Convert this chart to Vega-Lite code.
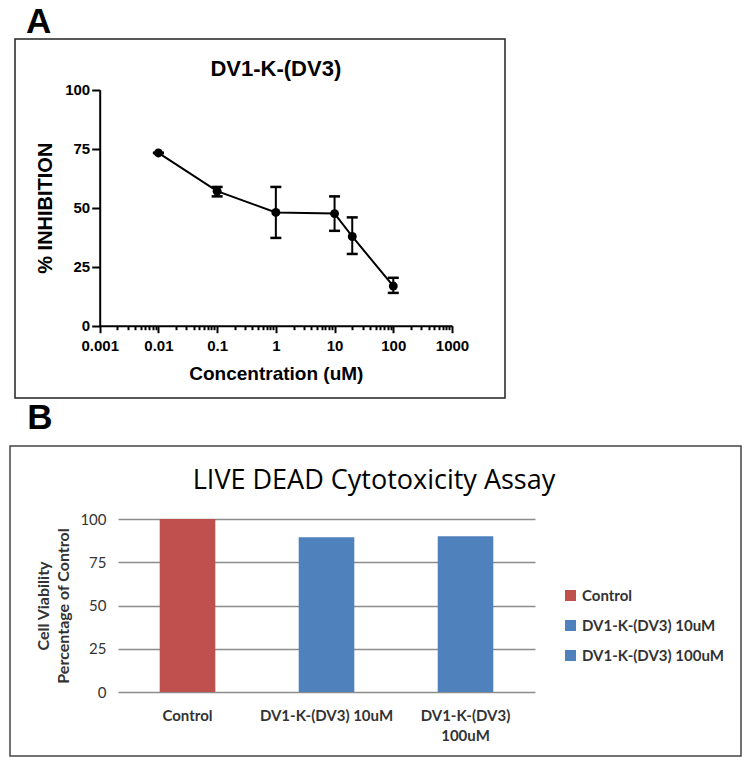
{
  "$schema": "https://vega.github.io/schema/vega-lite/v6.json",
  "padding": {"left": 9, "top": 5, "right": 5, "bottom": 5},
  "background": "white",
  "config": {"font": "Liberation Sans", "view": {"stroke": null}},
  "spacing": 2,
  "resolve": {"scale": {"color": "independent"}, "legend": {"color": "independent"}},
  "vconcat": [
    {
      "title": {"text": "A", "anchor": "start", "dx": 16, "offset": -30, "baseline": "alphabetic", "font": "Liberation Sans", "fontSize": 35, "fontWeight": "bold", "color": "black"},
      "spacing": 0,
      "hconcat": [
        {"width": 4, "height": 1, "data": {"values": []}, "mark": "point", "view": {"stroke": null}},
        {
          "width": 490,
          "height": 359,
          "view": {"stroke": "#222222", "strokeWidth": 1.5},
          "data": {"values": [
            {"conc": 0.01, "inh": 73.2, "lo": 73.2, "hi": 73.2},
            {"conc": 0.1, "inh": 57.0, "lo": 54.8, "hi": 58.8},
            {"conc": 1, "inh": 48.0, "lo": 37.2, "hi": 58.8},
            {"conc": 10, "inh": 47.5, "lo": 40.2, "hi": 54.8},
            {"conc": 20, "inh": 37.8, "lo": 30.4, "hi": 45.9},
            {"conc": 100, "inh": 16.8, "lo": 13.9, "hi": 20.3}
          ]},
          "layer": [
            {
              "encoding": {
                "x": {
                  "field": "conc", "type": "quantitative",
                  "scale": {"type": "log", "domain": [0.001, 1000], "range": [84.7, 437], "nice": false},
                  "axis": {
                    "values": [0.001,0.002,0.003,0.004,0.005,0.006,0.007,0.008,0.009,0.01,0.02,0.03,0.04,0.05,0.06,0.07,0.08,0.09,0.1,0.2,0.3,0.4,0.5,0.6,0.7,0.8,0.9,1,2,3,4,5,6,7,8,9,10,20,30,40,50,60,70,80,90,100,200,300,400,500,600,700,800,900,1000],
                    "labelExpr": "indexof([0.001,0.01,0.1,1,10,100,1000], datum.value) >= 0 ? format(datum.value, '~g') : ''",
                    "tickSize": {"condition": {"test": "indexof([0.001,0.01,0.1,1,10,100,1000], datum.value) >= 0", "value": 7}, "value": 4},
                    "tickWidth": 2, "tickColor": "black",
                    "domain": true, "domainWidth": 2, "domainColor": "black",
                    "grid": false, "offset": -72.3,
                    "labelFont": "Liberation Sans", "labelFontSize": 15, "labelFontWeight": "bold", "labelColor": "black",
                    "labelPadding": 6, "labelFlush": false, "labelOverlap": false, "labelBound": false,
                    "title": "Concentration (uM)", "titleFont": "Liberation Sans", "titleFontSize": 19, "titleFontWeight": "bold", "titleColor": "black",
                    "titleY": 54, "titleBaseline": "alphabetic"
                  }
                },
                "y": {
                  "field": "inh", "type": "quantitative",
                  "scale": {"domain": [0, 100], "range": [286.7, 50.7], "nice": false, "zero": false},
                  "axis": {
                    "values": [0, 25, 50, 75, 100],
                    "offset": -84.7, "domain": true, "domainWidth": 2, "domainColor": "black", "grid": false,
                    "tickSize": 8, "tickWidth": 2, "tickColor": "black",
                    "labelFont": "Liberation Sans", "labelFontSize": 15, "labelFontWeight": "bold", "labelColor": "black", "labelPadding": 2,
                    "title": "% INHIBITION", "titleFont": "Liberation Sans", "titleFontSize": 20, "titleFontWeight": "bold", "titleColor": "black",
                    "titleX": -47.7, "titleBaseline": "alphabetic"
                  }
                }
              },
              "layer": [
                {
                  "mark": {"type": "line", "color": "black", "strokeWidth": 2},
                  "encoding": {}
                },
                {
                  "mark": {"type": "rule", "color": "black", "strokeWidth": 2},
                  "encoding": {"y": {"field": "lo", "type": "quantitative"}, "y2": {"field": "hi"}}
                },
                {
                  "mark": {"type": "tick", "orient": "horizontal", "color": "black", "size": 11, "thickness": 2.5, "opacity": 1},
                  "encoding": {"y": {"field": "lo", "type": "quantitative"}}
                },
                {
                  "mark": {"type": "tick", "orient": "horizontal", "color": "black", "size": 11, "thickness": 2.5, "opacity": 1},
                  "encoding": {"y": {"field": "hi", "type": "quantitative"}}
                },
                {
                  "mark": {"type": "circle", "color": "black", "size": 80, "opacity": 1},
                  "encoding": {}
                }
              ]
            },
            {
              "data": {"values": [{"label": "DV1-K-(DV3)"}]},
              "mark": {"type": "text", "font": "Liberation Sans", "fontSize": 22, "fontWeight": "bold", "baseline": "alphabetic", "align": "center", "color": "black"},
              "encoding": {
                "x": {"datum": 1, "type": "quantitative"},
                "y": {"datum": 105.7, "type": "quantitative"},
                "text": {"field": "label"}
              }
            }
          ]
        }
      ]
    },
    {
      "title": {"text": "B", "anchor": "start", "dx": 18, "offset": -19, "baseline": "alphabetic", "font": "Liberation Sans", "fontSize": 35, "fontWeight": "bold", "color": "black"},
      "resolve": {"scale": {"color": "independent"}, "legend": {"color": "independent"}},
      "vconcat": [
        {
          "width": 731,
          "height": 310,
          "view": {"stroke": "#444444", "strokeWidth": 1.5},
          "data": {"values": [
            {"group": "Control", "value": 100},
            {"group": "DV1-K-(DV3) 10uM", "value": 89.5},
            {"group": "DV1-K-(DV3) 100uM", "value": 90}
          ]},
          "layer": [
            {
              "mark": {"type": "bar"},
              "encoding": {
                "x": {
                  "field": "group", "type": "nominal", "sort": null,
                  "scale": {"domain": ["Control", "DV1-K-(DV3) 10uM", "DV1-K-(DV3) 100uM"], "range": [108, 525], "paddingInner": 0.6, "paddingOuter": 0.3},
                  "axis": {
                    "domain": false, "ticks": false, "tickSize": 0, "grid": false, "offset": -64,
                    "labelAngle": 0, "labelFont": "Lato", "labelFontSize": 15, "labelFontWeight": "bold", "labelColor": "#333333",
                    "labelPadding": 16, "labelLineHeight": 20, "labelBaseline": "top",
                    "labelExpr": "datum.value == 'DV1-K-(DV3) 100uM' ? ['DV1-K-(DV3)', '100uM'] : datum.label",
                    "title": null
                  }
                },
                "y": {
                  "field": "value", "type": "quantitative",
                  "scale": {"domain": [0, 100], "range": [246, 73], "nice": false, "zero": false},
                  "axis": {
                    "values": [0, 25, 50, 75, 100],
                    "offset": -108, "domain": false, "ticks": false, "tickSize": 0,
                    "grid": true, "gridColor": "#8c8c8c", "gridWidth": 1.3,
                    "labelFont": "Lato", "labelFontSize": 15, "labelColor": "#333333", "labelPadding": 12,
                    "title": ["Cell Viability", "Percentage of Control"],
                    "titleFont": "Lato", "titleFontSize": 16, "titleFontWeight": "bold", "titleColor": "#333333",
                    "titleLineHeight": 20, "titleX": -70, "titleBaseline": "alphabetic"
                  }
                },
                "color": {
                  "field": "group", "type": "nominal",
                  "scale": {"domain": ["Control", "DV1-K-(DV3) 10uM", "DV1-K-(DV3) 100uM"], "range": ["#C0504D", "#4F81BD", "#4F81BD"]},
                  "legend": {
                    "orient": "none", "legendX": 553, "legendY": 142, "title": null,
                    "symbolType": "square", "symbolSize": 121, "symbolStrokeWidth": 0, "symbolOpacity": 1,
                    "labelFont": "Lato", "labelFontSize": 15, "labelFontWeight": "bold", "labelColor": "#333333",
                    "rowPadding": 14, "labelOffset": 4
                  }
                }
              }
            },
            {
              "data": {"values": [{"label": "LIVE DEAD Cytotoxicity Assay"}]},
              "mark": {"type": "text", "font": "Open Sans", "fontSize": 27, "baseline": "alphabetic", "align": "center", "color": "black"},
              "encoding": {
                "x": {"datum": "DV1-K-(DV3) 10uM", "type": "nominal", "bandPosition": 1.354},
                "y": {"datum": 117.3, "type": "quantitative"},
                "text": {"field": "label"}
              }
            }
          ]
        }
      ]
    }
  ]
}
